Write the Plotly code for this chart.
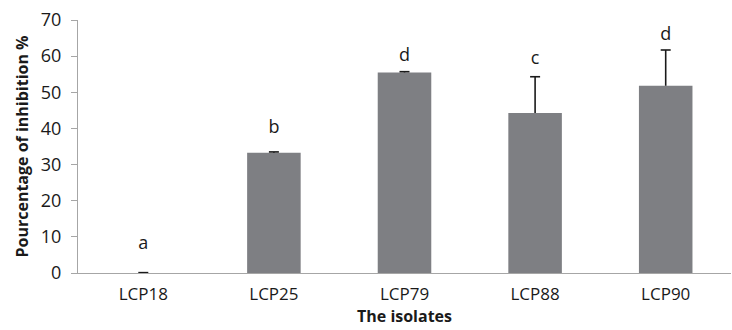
import plotly.graph_objects as go

isolates = ["LCP18", "LCP25", "LCP79", "LCP88", "LCP90"]
inhibition = [0.0, 33.3, 55.5, 44.3, 51.8]
errors = [0.1, 0.2, 0.2, 10.0, 9.9]
letters = ["a", "b", "d", "c", "d"]
letter_y = [8.0, 40.0, 59.8, 59.1, 65.6]

fig = go.Figure()
fig.add_trace(go.Bar(
    x=isolates, y=inhibition,
    marker=dict(color="#7e7f83", line=dict(width=0)),
    showlegend=False,
))
fig.add_trace(go.Scatter(
    x=isolates, y=letter_y, mode="text", text=letters,
    textposition="middle center",
    textfont=dict(family="Open Sans", size=18, color="#1a1a1a"),
    showlegend=False, hoverinfo="skip",
))
# one-sided (upper) error bars: stem + top cap only
for cat, v, e in zip(isolates, inhibition, errors):
    fig.add_shape(type="line", xref="x", yref="y", x0=cat, x1=cat, y0=v, y1=v + e,
                  line=dict(color="#1a1a1a", width=1.6))
    fig.add_shape(type="line", xref="x", yref="y", xsizemode="pixel", xanchor=cat,
                  x0=-5, x1=5, y0=v + e, y1=v + e,
                  line=dict(color="#1a1a1a", width=1.6))
fig.update_layout(
    width=732, height=330,
    margin=dict(l=78, r=1, t=20, b=57),
    paper_bgcolor="white", plot_bgcolor="white",
    bargap=0.59,
    font=dict(family="Open Sans", color="#1a1a1a"),
)
fig.update_xaxes(
    showline=True, linecolor="#a6a6a6", linewidth=1,
    ticks="", showgrid=False,
    tickfont=dict(size=17, family="Open Sans", color="#1a1a1a"),
    ticklabelstandoff=6,
    title=dict(text="<b>The isolates</b>", font=dict(size=16, family="Open Sans"), standoff=4),
)
fig.update_yaxes(
    range=[0, 70], dtick=10, showline=True, linecolor="#a6a6a6", linewidth=1,
    ticks="outside", ticklen=6, tickcolor="#a6a6a6", showgrid=False, zeroline=False,
    tickfont=dict(size=18, family="Open Sans", color="#1a1a1a"),
    ticklabelstandoff=6,
    title=dict(text="<b>Pourcentage of inhibition %</b>", font=dict(size=16, family="Open Sans"), standoff=8),
)
fig.write_html("out.html")
